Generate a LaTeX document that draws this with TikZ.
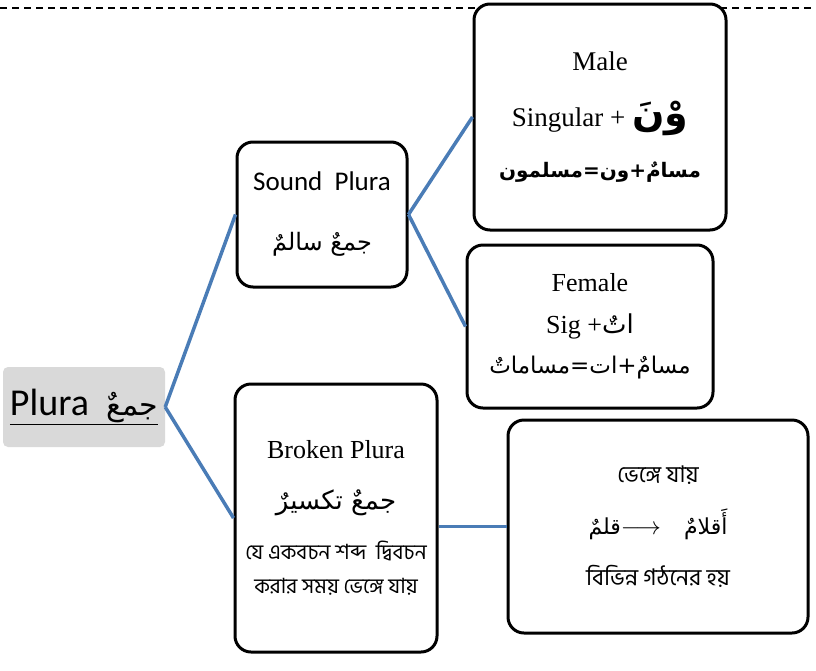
\documentclass[tikz,border=0pt]{standalone}
\usepackage{fontspec}
\setmainfont{Liberation Serif}
\newfontfamily\calibfont{Carlito}
\newfontfamily\arabicfont[Script=Arabic]{DejaVu Sans}
\newfontfamily\banglafont[Script=Bengali]{Hind Siliguri}
\TeXXeTstate=1
\usetikzlibrary{positioning}
\definecolor{linkblue}{RGB}{74,124,182}
\definecolor{rootgray}{RGB}{217,217,217}
\newcommand{\artxt}[1]{{\arabicfont\beginR #1\endR}}

\begin{document}
\begin{tikzpicture}[x=1pt,y=-1pt,
  box/.style={draw,line width=3pt,rounded corners=16pt,fill=white,align=center,inner sep=0pt},
  link/.style={draw=linkblue,line width=3.5pt},
  font=\fontsize{26}{30}\selectfont]
  \useasboundingbox (0,0) rectangle (816,670);
  \draw[line width=1.2pt,dash pattern=on 7pt off 5pt] (0,8) -- (816,8);
  % root
  \node[fill=rootgray,rounded corners=5pt,minimum width=162pt,minimum height=80pt,
    font=\calibfont\fontsize{38}{40}\selectfont] (plura) at (84,407)
    {\underline{Plura\ \ \artxt{\fontsize{30}{36}\selectfont جمعٌ}}};
  % first level
  \node[box,minimum width=170pt,minimum height=145pt,font=\calibfont\fontsize{27}{30}\selectfont]
    (sound) at (322,214.5)
    {Sound\ \ Plura\\[30pt]\artxt{\fontsize{24}{30}\selectfont جمعٌ سالمٌ}};
  \node[box,minimum width=202pt,minimum height=268pt] (broken) at (336,518)
    {Broken Plura\\[21pt]\artxt{\fontsize{26}{30}\selectfont جمعٌ تكسيرٌ}\\[20pt]
     {\banglafont\fontsize{21}{30}\selectfont যে একবচন শব্দ\ \ দ্বিবচন}\\[4pt]
     {\banglafont\fontsize{21}{30}\selectfont করার সময় ভেঙ্গে যায়}};
  % second level
  \node[box,minimum width=252pt,minimum height=226pt,font=\fontsize{27}{30}\selectfont]
    (male) at (600,117)
    {Male\\[26pt]Singular + {\arabicfont\bfseries\fontsize{38}{30}\selectfont\beginR وْنَ\endR}\\[21pt]
     {\arabicfont\bfseries\fontsize{20}{30}\selectfont\beginR مسامٌ+ون=مسلمون\endR}};
  \node[box,minimum width=246pt,minimum height=163pt] (female) at (590,326.5)
    {Female\\[12pt]Sig +\artxt{اتٌ}\\[10pt]
     \artxt{\fontsize{23}{30}\selectfont مسامٌ+ات=مساماتٌ}};
  \node[box,minimum width=300pt,minimum height=213pt,font=\banglafont\fontsize{23}{30}\selectfont]
    (irregular) at (658,526.5)
    {ভেঙ্গে যায়\\[22pt]
     \artxt{\fontsize{22}{30}\selectfont قلمٌ}{\fontsize{28}{30}\selectfont$\longrightarrow$}\quad\artxt{\fontsize{22}{30}\selectfont أَقلامٌ}\\[21pt]
     বিভিন্ন গঠনের হয়};
  % connectors
  \draw[link] (plura.east) -- (sound.west);
  \draw[link] (plura.east) -- (broken.west);
  \draw[link] (sound.east) -- (male.west);
  \draw[link] (sound.east) -- (female.west);
  \draw[link] (broken.east |- irregular.west) -- (irregular.west);
\end{tikzpicture}
\end{document}
